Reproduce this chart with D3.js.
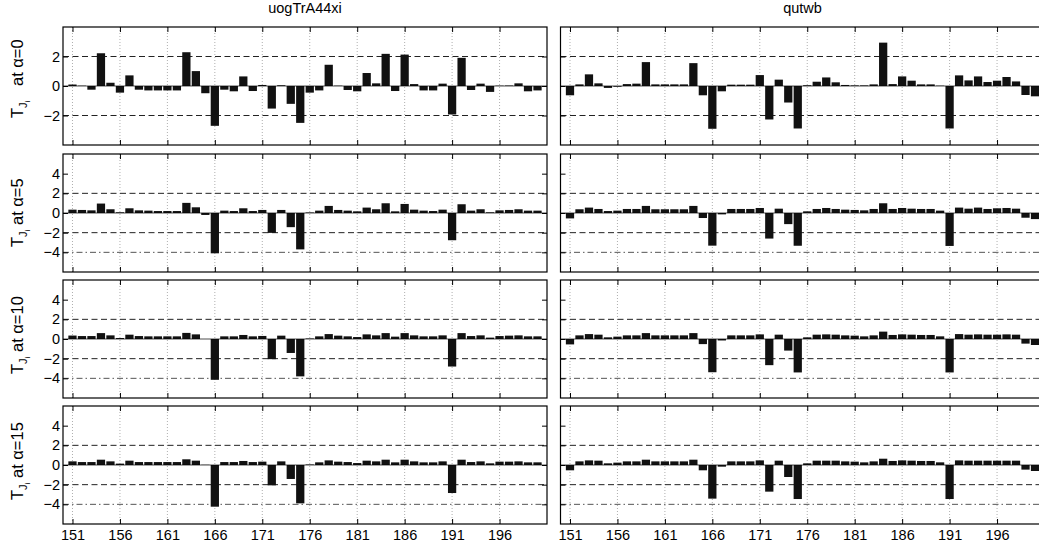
<!DOCTYPE html>
<html lang="en">
<head>
<meta charset="UTF-8">
<title>T_Ji panels</title>
<script src="https://cdn.jsdelivr.net/npm/d3@7"></script>
<style>
body{margin:0;background:#fff}
text{font-family:"Liberation Sans",Arial,Helvetica,sans-serif;fill:#000}
</style>
</head>
<body>
<svg id="chart" width="1039" height="550"></svg>
<script>
var positions = d3.range(151, 201);
var columnTitles = ["uogTrA44xi", "qutwb"];
var alphas = [0, 5, 10, 15];
var xTicks = [151, 156, 161, 166, 171, 176, 181, 186, 191, 196];
var yTicksFirst = [-2, 0, 2];
var yTicksRest = [-4, -2, 0, 2, 4];

var uog_a0 = [0.1,0.02,-0.25,2.22,0.22,-0.45,0.72,-0.25,-0.3,-0.3,
  -0.3,-0.3,2.29,1.01,-0.49,-2.7,-0.25,-0.36,0.65,-0.34,
  0.07,-1.53,0.05,-1.21,-2.5,-0.45,-0.3,1.44,0.02,-0.27,
  -0.36,0.88,0.18,2.18,-0.34,2.13,0.13,-0.3,-0.3,0.16,
  -1.93,1.91,-0.27,0.16,-0.4,0.02,0.03,0.18,-0.36,-0.3];
var uog_a5 = [0.34,0.31,0.27,0.96,0.38,0.07,0.48,0.27,0.24,0.2,
  0.2,0.2,1.03,0.58,-0.2,-4.1,0.24,0.2,0.48,0.2,
  0.31,-2.02,0.31,-1.44,-3.7,0.05,0.24,0.72,0.31,0.24,
  0.17,0.55,0.38,0.99,0.17,0.92,0.34,0.24,0.2,0.34,
  -2.77,0.89,0.24,0.38,0.07,0.27,0.31,0.38,0.24,0.24];
var uog_a10 = [0.35,0.3,0.3,0.6,0.37,0.1,0.44,0.3,0.27,0.27,
  0.27,0.27,0.62,0.47,0.0,-4.15,0.27,0.27,0.41,0.27,
  0.31,-2.05,0.34,-1.42,-3.8,0.05,0.27,0.5,0.34,0.27,
  0.2,0.47,0.37,0.6,0.24,0.6,0.37,0.27,0.27,0.37,
  -2.8,0.6,0.3,0.37,0.14,0.3,0.34,0.37,0.27,0.27];
var uog_a15 = [0.37,0.3,0.3,0.54,0.37,0.14,0.44,0.3,0.3,0.3,
  0.3,0.3,0.58,0.44,0.02,-4.24,0.3,0.3,0.41,0.3,
  0.34,-2.07,0.37,-1.42,-3.9,0.05,0.27,0.47,0.34,0.3,
  0.2,0.44,0.37,0.54,0.27,0.54,0.37,0.27,0.27,0.37,
  -2.85,0.54,0.3,0.37,0.17,0.34,0.34,0.37,0.27,0.27];

var qut_a0 = [-0.63,0.11,0.79,0.18,-0.13,-0.05,0.13,0.16,1.62,0.11,
  0.11,0.11,0.11,1.55,-0.63,-2.9,-0.36,0.09,0.09,0.09,
  0.74,-2.27,0.43,-1.12,-2.88,0.05,0.29,0.58,0.25,0.07,
  0.04,0.04,0.11,2.94,0.13,0.65,0.36,0.11,0.11,0.02,
  -2.88,0.72,0.38,0.65,0.27,0.36,0.61,0.31,-0.61,-0.7];
var qut_a5 = [-0.55,0.38,0.55,0.41,0.2,0.24,0.41,0.41,0.72,0.38,
  0.38,0.38,0.38,0.72,-0.51,-3.32,-0.14,0.41,0.41,0.41,
  0.51,-2.6,0.44,-1.13,-3.33,0.17,0.41,0.51,0.41,0.34,
  0.31,0.27,0.41,0.99,0.41,0.51,0.44,0.41,0.41,0.24,
  -3.35,0.55,0.44,0.55,0.41,0.48,0.51,0.44,-0.48,-0.62];
var qut_a10 = [-0.55,0.37,0.5,0.44,0.17,0.24,0.37,0.37,0.6,0.37,
  0.37,0.37,0.37,0.6,-0.52,-3.38,-0.15,0.37,0.37,0.37,
  0.47,-2.66,0.44,-1.18,-3.4,0.17,0.44,0.47,0.44,0.37,
  0.34,0.27,0.37,0.75,0.41,0.47,0.44,0.41,0.41,0.27,
  -3.4,0.5,0.44,0.47,0.44,0.44,0.47,0.44,-0.47,-0.61];
var qut_a15 = [-0.54,0.37,0.47,0.44,0.17,0.24,0.37,0.37,0.54,0.37,
  0.37,0.37,0.37,0.54,-0.54,-3.42,-0.17,0.37,0.37,0.37,
  0.47,-2.71,0.44,-1.22,-3.46,0.17,0.44,0.44,0.44,0.37,
  0.34,0.27,0.37,0.64,0.41,0.47,0.44,0.41,0.41,0.27,
  -3.46,0.47,0.44,0.44,0.44,0.44,0.44,0.44,-0.47,-0.61];

var series = [[uog_a0, uog_a5, uog_a10, uog_a15], [qut_a0, qut_a5, qut_a10, qut_a15]];

var svg = d3.select("#chart");
var colLeft = [63, 560.5], colWidth = 484;
var rowTop = [27, 154, 280, 406], rowHeight = 118;
// where the rotated y label starts (its lower end) and the extra gap before "at"
var labelStart = [118, 247, 374, 500];
var labelGap = [10, 0, 0, 0];

for (var c = 0; c < 2; c++) {
  for (var r = 0; r < 4; r++) {
    drawPanel(c, r);
  }
  svg.append("text")
    .attr("x", colLeft[c] + colWidth / 2)
    .attr("y", 13)
    .attr("text-anchor", "middle")
    .style("font-size", "14.5px")
    .text(columnTitles[c]);
}

function drawPanel(c, r) {
  var x0 = colLeft[c], y0 = rowTop[r];
  var x = d3.scaleLinear().domain([150, 201]).range([x0, x0 + colWidth]);
  var y = d3.scaleLinear().domain(r == 0 ? [-4, 4] : [-6, 6]).range([y0 + rowHeight, y0]);
  var g = svg.append("g");
  var vals = series[c][r];
  var bw = (x(1) - x(0)) * 0.87;

  // dotted grid
  g.selectAll(".grid").data(xTicks).enter().append("line")
    .attr("x1", function(d) { return x(d); }).attr("x2", function(d) { return x(d); })
    .attr("y1", y0).attr("y2", y0 + rowHeight)
    .attr("stroke", "#9a9a9a").attr("stroke-width", 0.8)
    .attr("stroke-dasharray", "1,2");

  // reference lines
  g.selectAll(".dash").data([-2, 2]).enter().append("line")
    .attr("x1", x0).attr("x2", x0 + colWidth)
    .attr("y1", function(d) { return y(d); }).attr("y2", function(d) { return y(d); })
    .attr("stroke", "#222").attr("stroke-dasharray", "6,3.5");
  if (r > 0) {
    g.append("line")
      .attr("x1", x0).attr("x2", x0 + colWidth)
      .attr("y1", y(-4)).attr("y2", y(-4))
      .attr("stroke", "#555").attr("stroke-dasharray", "6,3,1.5,3");
  }

  // bars
  g.selectAll(".bar").data(vals).enter().append("rect")
    .attr("x", function(d, i) { return x(positions[i]) - bw / 2; })
    .attr("y", function(d) { return y(Math.max(0, d)); })
    .attr("width", bw)
    .attr("height", function(d) { return Math.abs(y(d) - y(0)); })
    .attr("fill", "#111");

  g.append("line")
    .attr("x1", x0).attr("x2", x0 + colWidth)
    .attr("y1", y(0)).attr("y2", y(0))
    .attr("stroke", "#000").attr("stroke-width", 0.7);

  var yt = r == 0 ? yTicksFirst : yTicksRest;
  var yl = g.append("g").attr("transform", "translate(" + x0 + ",0)")
    .call(d3.axisLeft(y).tickValues(yt).tickSizeInner(-5).tickSizeOuter(0).tickPadding(3)
      .tickFormat(c == 0 ? d3.format("d") : ""));
  var yr = g.append("g").attr("transform", "translate(" + (x0 + colWidth) + ",0)")
    .call(d3.axisRight(y).tickValues(yt).tickSizeInner(-5).tickSizeOuter(0).tickFormat(""));
  var xb = g.append("g").attr("transform", "translate(0," + (y0 + rowHeight) + ")")
    .call(d3.axisBottom(x).tickValues(xTicks).tickSizeInner(-5).tickSizeOuter(0).tickPadding(6)
      .tickFormat(r == 3 ? d3.format("d") : ""));
  var xt = g.append("g").attr("transform", "translate(0," + y0 + ")")
    .call(d3.axisTop(x).tickValues(xTicks).tickSizeInner(-5).tickSizeOuter(0).tickFormat(""));
  [yl, yr, xb, xt].forEach(function(a) {
    a.select(".domain").remove();
    a.selectAll("line").attr("stroke", "#000");
    a.selectAll("text").style("font-size", "14.5px").attr("fill", "#000")
      .style("font-family", "Liberation Sans, Arial, sans-serif");
  });

  // box
  g.append("rect")
    .attr("x", x0).attr("y", y0).attr("width", colWidth).attr("height", rowHeight)
    .attr("fill", "none").attr("stroke", "#000").attr("stroke-width", 1.2);

  if (c == 0) {
    var lab = svg.append("text")
      .attr("transform", "translate(23," + labelStart[r] + ") rotate(-90)")
      .attr("text-anchor", "start")
      .style("font-size", "16.5px");
    lab.append("tspan").text("T");
    lab.append("tspan").attr("dy", 4).style("font-size", "11px").text("J");
    lab.append("tspan").attr("dy", 3).style("font-size", "8px").text("i");
    lab.append("tspan").attr("dy", -7).attr("dx", labelGap[r]).text(" at \u03b1=" + alphas[r]);
  }
}
</script>
</body>
</html>
